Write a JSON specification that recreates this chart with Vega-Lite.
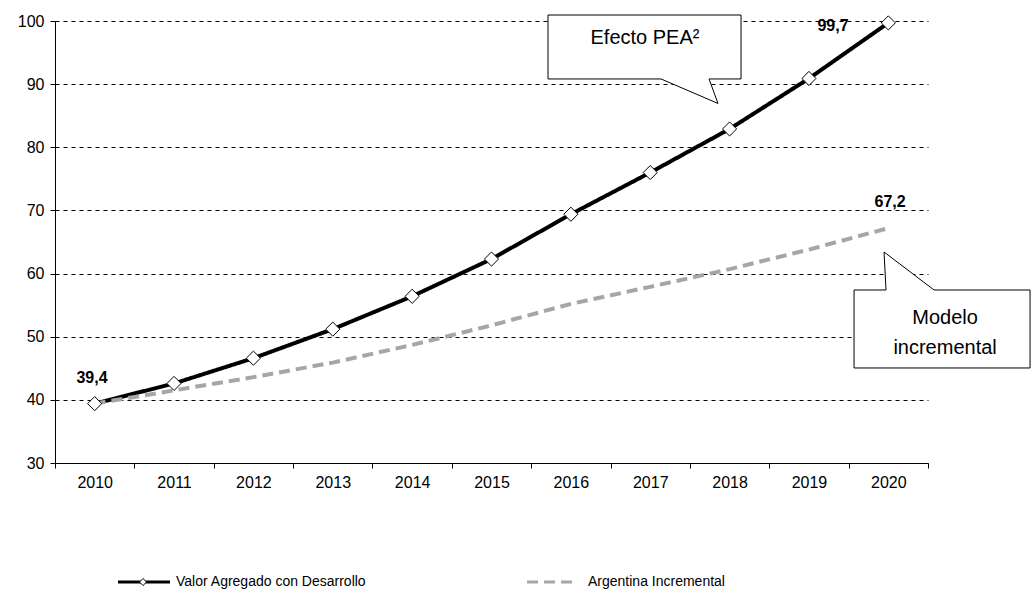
{
  "$schema": "https://vega.github.io/schema/vega-lite/v6.json",
  "autosize": "none",
  "width": 873,
  "height": 442,
  "padding": {"left": 55, "top": 21, "right": 107, "bottom": 130},
  "background": "white",
  "config": {
    "view": {"stroke": null},
    "font": "Liberation Sans",
    "axis": {"labelFont": "Liberation Sans", "labelColor": "black", "domainColor": "black", "tickColor": "black", "labelFontSize": 16}
  },
  "datasets": {
    "series": [
      {"year": "2010", "serie": "Valor Agregado con Desarrollo", "value": 39.4},
      {"year": "2011", "serie": "Valor Agregado con Desarrollo", "value": 42.6},
      {"year": "2012", "serie": "Valor Agregado con Desarrollo", "value": 46.6},
      {"year": "2013", "serie": "Valor Agregado con Desarrollo", "value": 51.2},
      {"year": "2014", "serie": "Valor Agregado con Desarrollo", "value": 56.4},
      {"year": "2015", "serie": "Valor Agregado con Desarrollo", "value": 62.3},
      {"year": "2016", "serie": "Valor Agregado con Desarrollo", "value": 69.4},
      {"year": "2017", "serie": "Valor Agregado con Desarrollo", "value": 76.0},
      {"year": "2018", "serie": "Valor Agregado con Desarrollo", "value": 82.9},
      {"year": "2019", "serie": "Valor Agregado con Desarrollo", "value": 90.9},
      {"year": "2020", "serie": "Valor Agregado con Desarrollo", "value": 99.7},
      {"year": "2010", "serie": "Argentina Incremental", "value": 39.4},
      {"year": "2011", "serie": "Argentina Incremental", "value": 41.5},
      {"year": "2012", "serie": "Argentina Incremental", "value": 43.6},
      {"year": "2013", "serie": "Argentina Incremental", "value": 45.9},
      {"year": "2014", "serie": "Argentina Incremental", "value": 48.7},
      {"year": "2015", "serie": "Argentina Incremental", "value": 51.8},
      {"year": "2016", "serie": "Argentina Incremental", "value": 55.2},
      {"year": "2017", "serie": "Argentina Incremental", "value": 57.9},
      {"year": "2018", "serie": "Argentina Incremental", "value": 60.7},
      {"year": "2019", "serie": "Argentina Incremental", "value": 63.8},
      {"year": "2020", "serie": "Argentina Incremental", "value": 67.2}
    ],
    "callouts": [
      {"id": "a", "i": 1, "x": 2015.712, "y": 100.95},
      {"id": "a", "i": 2, "x": 2018.144, "y": 100.95},
      {"id": "a", "i": 3, "x": 2018.144, "y": 90.82},
      {"id": "a", "i": 4, "x": 2017.741, "y": 90.82},
      {"id": "a", "i": 5, "x": 2017.854, "y": 86.94},
      {"id": "a", "i": 6, "x": 2017.136, "y": 90.82},
      {"id": "a", "i": 7, "x": 2015.712, "y": 90.82},
      {"id": "a", "i": 8, "x": 2015.712, "y": 100.95},
      {"id": "b", "i": 1, "x": 2019.568, "y": 57.40},
      {"id": "b", "i": 2, "x": 2019.971, "y": 57.40},
      {"id": "b", "i": 3, "x": 2019.946, "y": 63.42},
      {"id": "b", "i": 4, "x": 2020.576, "y": 57.40},
      {"id": "b", "i": 5, "x": 2021.786, "y": 57.40},
      {"id": "b", "i": 6, "x": 2021.786, "y": 45.05},
      {"id": "b", "i": 7, "x": 2019.568, "y": 45.05},
      {"id": "b", "i": 8, "x": 2019.568, "y": 57.40}
    ],
    "notes": [
      {"x": 2016.934, "y": 97.31, "label": "Efecto PEA²", "kind": "callout"},
      {"x": 2020.715, "y": 52.96, "label": "Modelo", "kind": "callout"},
      {"x": 2020.715, "y": 48.20, "label": "incremental", "kind": "callout"},
      {"x": 2009.966, "y": 43.46, "label": "39,4", "kind": "value"},
      {"x": 2019.303, "y": 99.21, "label": "99,7", "kind": "value"},
      {"x": 2020.022, "y": 71.34, "label": "67,2", "kind": "value"}
    ],
    "legend": [
      {"serie": "Valor Agregado con Desarrollo", "x": 2010.294, "y": 11.15},
      {"serie": "Valor Agregado con Desarrollo", "x": 2010.949, "y": 11.15},
      {"serie": "Argentina Incremental", "x": 2015.448, "y": 11.15},
      {"serie": "Argentina Incremental", "x": 2016.052, "y": 11.15}
    ],
    "legendtext": [
      {"serie": "Valor Agregado con Desarrollo", "x": 2011.025, "y": 11.15, "mx": 2010.609},
      {"serie": "Argentina Incremental", "x": 2016.216, "y": 11.15, "mx": null}
    ]
  },
  "layer": [
    {
      "layer": [
        {
          "mark": {"type": "line", "strokeWidth": 4},
          "encoding": {
            "color": {"field": "serie", "type": "nominal", "scale": {"domain": ["Valor Agregado con Desarrollo", "Argentina Incremental"], "range": ["#000000", "#a6a6a6"]}, "legend": null},
            "strokeDash": {"field": "serie", "type": "nominal", "scale": {"domain": ["Valor Agregado con Desarrollo", "Argentina Incremental"], "range": [[1, 0], [11, 6]]}, "legend": null},
            "order": {"field": "year"}
          }
        },
        {
          "transform": [{"filter": "datum.serie === 'Valor Agregado con Desarrollo'"}],
          "mark": {"type": "point", "shape": "diamond", "size": 200, "filled": true, "fill": "white", "stroke": "black", "strokeWidth": 1, "opacity": 1},
          "encoding": {}
        }
      ],
      "data": {"name": "series"},
      "encoding": {
        "x": {"field": "year", "type": "ordinal", "scale": {"type": "band", "paddingInner": 0, "paddingOuter": 0},
          "axis": {"title": null, "tickBand": "extent", "labelAngle": 0, "labelPadding": 6, "tickSize": 5, "grid": false, "domainWidth": 1}},
        "y": {"field": "value", "type": "quantitative", "scale": {"domain": [30, 100], "nice": false, "zero": false},
          "axis": {"title": null, "values": [30, 40, 50, 60, 70, 80, 90, 100], "grid": true, "gridColor": "black", "gridDash": [4, 4], "gridWidth": 1, "tickSize": 5, "labelPadding": 6}}
      }
    },
    {
      "layer": [
        {
          "data": {"name": "callouts"},
          "mark": {"type": "line", "fill": "white", "stroke": "black", "strokeWidth": 1},
          "encoding": {
            "x": {"field": "x", "type": "quantitative"},
            "y": {"field": "y", "type": "quantitative"},
            "detail": {"field": "id"},
            "order": {"field": "i"}
          }
        },
        {
          "data": {"name": "notes"},
          "transform": [{"filter": "datum.kind === 'callout'"}],
          "mark": {"type": "text", "fontSize": 20, "font": "Liberation Sans", "align": "center", "baseline": "middle", "color": "black"},
          "encoding": {
            "x": {"field": "x", "type": "quantitative"},
            "y": {"field": "y", "type": "quantitative"},
            "text": {"field": "label"}
          }
        },
        {
          "data": {"name": "notes"},
          "transform": [{"filter": "datum.kind === 'value'"}],
          "mark": {"type": "text", "fontSize": 16, "fontWeight": "bold", "font": "Liberation Sans", "align": "center", "baseline": "middle", "color": "black"},
          "encoding": {
            "x": {"field": "x", "type": "quantitative"},
            "y": {"field": "y", "type": "quantitative"},
            "text": {"field": "label"}
          }
        },
        {
          "data": {"name": "legend"},
          "mark": {"type": "line", "strokeWidth": 3},
          "encoding": {
            "x": {"field": "x", "type": "quantitative"},
            "y": {"field": "y", "type": "quantitative"},
            "detail": {"field": "serie"},
            "color": {"field": "serie", "type": "nominal", "scale": {"domain": ["Valor Agregado con Desarrollo", "Argentina Incremental"], "range": ["#000000", "#a6a6a6"]}, "legend": null},
            "strokeDash": {"field": "serie", "type": "nominal", "scale": {"domain": ["Valor Agregado con Desarrollo", "Argentina Incremental"], "range": [[1, 0], [10, 6]]}, "legend": null}
          }
        },
        {
          "data": {"name": "legendtext"},
          "transform": [{"filter": "datum.mx !== null"}],
          "mark": {"type": "point", "shape": "diamond", "size": 50, "filled": true, "fill": "white", "stroke": "black", "strokeWidth": 1, "opacity": 1},
          "encoding": {
            "x": {"field": "mx", "type": "quantitative"},
            "y": {"field": "y", "type": "quantitative"}
          }
        },
        {
          "data": {"name": "legendtext"},
          "mark": {"type": "text", "fontSize": 14, "font": "Liberation Sans", "align": "left", "baseline": "middle", "color": "black"},
          "encoding": {
            "x": {"field": "x", "type": "quantitative"},
            "y": {"field": "y", "type": "quantitative"},
            "text": {"field": "serie"}
          }
        }
      ],
      "encoding": {
        "x": {"type": "quantitative", "scale": {"domain": [2009.5, 2020.5], "nice": false, "zero": false}, "axis": null},
        "y": {"type": "quantitative", "scale": {"domain": [30, 100], "nice": false, "zero": false}}
      }
    }
  ],
  "resolve": {"scale": {"x": "independent", "color": "shared", "strokeDash": "shared"}}
}
